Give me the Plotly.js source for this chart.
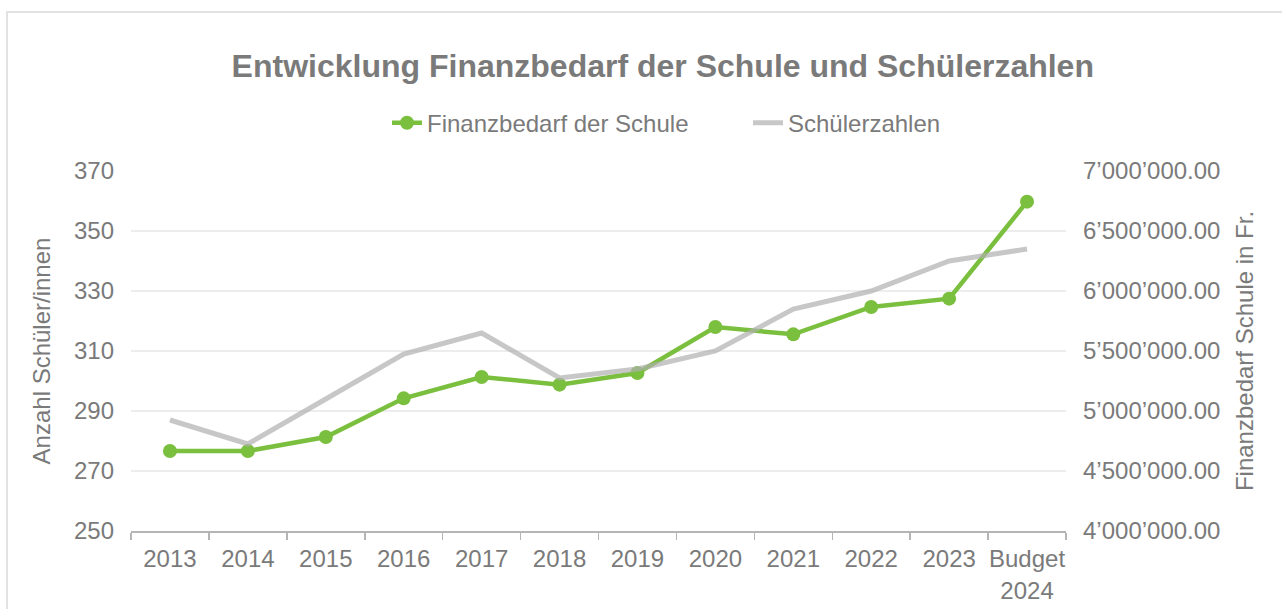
<!DOCTYPE html>
<html>
<head>
<meta charset="utf-8">
<script src="https://cdn.plot.ly/plotly-3.0.1.min.js"></script>
<style>
  html, body { margin: 0; padding: 0; width: 1282px; height: 609px; overflow: hidden; background: #ffffff; }
  #frame { position: absolute; left: 6px; top: 11px; width: 1400px; height: 700px; border: 2px solid #e2e2e2; box-sizing: border-box; }
  #chart { position: absolute; left: 0; top: 0; width: 1282px; height: 609px; }
</style>
</head>
<body>
<div id="frame"></div>
<div id="chart"></div>
<script>
// Categories (x axis)
const categories = ["2013", "2014", "2015", "2016", "2017", "2018", "2019", "2020", "2021", "2022", "2023", "Budget<br>2024"];
// Finanzbedarf der Schule in Fr. (right axis)
const finanzbedarf = [4666667, 4666667, 4783333, 5105556, 5283333, 5219444, 5316667, 5700000, 5638889, 5866667, 5936111, 6744444];
// Schülerzahlen (left axis)
const schuelerzahlen = [287, 279, 294, 309, 316, 301, 304, 310, 324, 330, 340, 344];

const textColor = "#7a7a7a";
const fontFamily = "'Liberation Sans', Arial, sans-serif";

const traces = [
  {
    name: "Finanzbedarf der Schule",
    x: categories,
    y: finanzbedarf,
    xaxis: "x",
    yaxis: "y",
    type: "scatter",
    mode: "lines+markers",
    line: { color: "#7bbf3f", width: 4.5 },
    marker: { color: "#7bbf3f", size: 14 },
    cliponaxis: false
  },
  {
    name: "Schülerzahlen",
    x: categories,
    y: schuelerzahlen,
    xaxis: "x",
    yaxis: "y2",
    type: "scatter",
    mode: "lines",
    line: { color: "rgba(175,175,175,0.7)", width: 5 },
    cliponaxis: false
  }
];

const layout = {
  width: 1282,
  height: 609,
  paper_bgcolor: "rgba(0,0,0,0)",
  plot_bgcolor: "rgba(0,0,0,0)",
  separators: ".’",
  font: { family: fontFamily, size: 24, color: textColor },
  margin: { l: 131, r: 216, t: 171, b: 78, pad: 0, autoexpand: false },
  title: {
    text: "<b>Entwicklung Finanzbedarf der Schule und Schülerzahlen</b>",
    font: { family: fontFamily, size: 32, color: textColor },
    xref: "container", x: 0.517, xanchor: "center",
    yref: "container", y: 1 - 66 / 609, yanchor: "middle"
  },
  showlegend: true,
  legend: {
    orientation: "h",
    x: (387 - 131) / 935, xanchor: "left",
    y: 1.133, yanchor: "middle",
    font: { family: fontFamily, size: 24, color: textColor },
    bgcolor: "rgba(0,0,0,0)",
    entrywidth: 316,
    entrywidthmode: "pixels",
    traceorder: "normal"
  },
  xaxis: {
    type: "category",
    range: [-0.5, 11.5],
    automargin: false,
    tickangle: 0,
    showgrid: false,
    showline: true,
    linecolor: "#b5b5b5",
    linewidth: 1.5,
    ticks: "outside",
    tickson: "boundaries",
    ticklen: 7,
    tickcolor: "#b5b5b5",
    tickwidth: 1.5,
    tickfont: { family: fontFamily, size: 24, color: textColor },
    ticklabelstandoff: 6,
    zeroline: false,
    fixedrange: true
  },
  yaxis: {
    side: "right",
    automargin: false,
    range: [4000000, 7000000],
    tick0: 4000000,
    dtick: 500000,
    tickformat: ",.2f",
    showgrid: true,
    gridcolor: "#ededed",
    gridwidth: 1.5,
    zeroline: false,
    showline: false,
    ticks: "",
    ticklabelstandoff: 16,
    tickfont: { family: fontFamily, size: 24, color: textColor },
    title: { text: "Finanzbedarf Schule in Fr.", font: { family: fontFamily, size: 24, color: textColor }, standoff: 16 }
  },
  yaxis2: {
    side: "left",
    overlaying: "y",
    automargin: false,
    range: [250, 370],
    tick0: 250,
    dtick: 20,
    showgrid: false,
    zeroline: false,
    showline: false,
    ticks: "",
    ticklabelstandoff: 16,
    tickfont: { family: fontFamily, size: 24, color: textColor },
    title: { text: "Anzahl Schüler/innen", font: { family: fontFamily, size: 24, color: textColor }, standoff: 16 }
  }
};

Plotly.newPlot("chart", traces, layout, { staticPlot: true, displayModeBar: false });
</script>
</body>
</html>
